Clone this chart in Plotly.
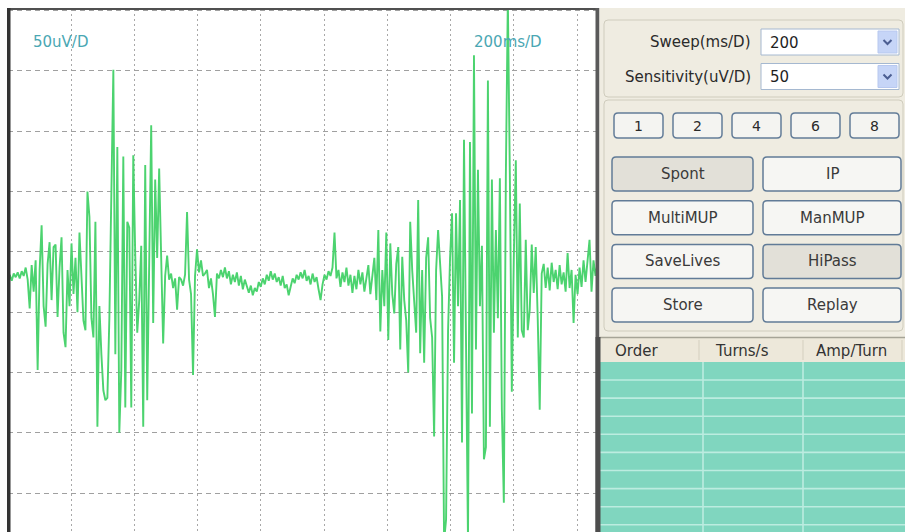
import plotly.graph_objects as go

W, H = 905, 532

# ---------------- data ----------------
sample_ms = 6.3  # sampling interval of the trace (ms)
amplitude_uV = [
    2, 6, 1, 7, 4, 8, 3, 9, 5, 12, 2, -22, 14, -8, 18,
    -73, 10, 47, -20, -37, 15, 33, -15, 29, 31, -29, 12, 37, -42, -54,
    10, -20, 32, -10, 20, -25, 41, 5, -32, -40, 75, 54, -30, -46, 50,
    -120, -20, -60, -90, -98, -96, -30, 87, 176, -60, 112, -125, -73, 104, -104,
    50, 45, -104, 105, 22, -42, -15, 30, -120, 97, -98, 40, 130, -34, 85,
    20, 94, 21, -51, 5, 22, 2, 7, -5, 3, -23, 4, 2, -3, 6,
    58, 2, -10, -77, 5, 27, 8, 18, 5, 7, 10, -5, 3, -10, -29,
    7, 3, 10, 4, 12, 3, 9, -2, 6, 0, 8, -3, 5, -6, 2,
    -4, -9, -3, -11, -5, -8, 0, -4, 3, -2, 6, 1, 9, 2, 7,
    0, 4, -3, 5, -5, -2, -11, -4, 3, -1, 6, 2, 8, 3, 10,
    1, 5, -2, 7, 0, 4, -6, -15, -2, 6, 2, 9, 5, 12, 41,
    3, 10, -4, 8, 0, 12, -3, 6, -9, 5, -6, 10, -2, 8, -8,
    3, 14, -10, 6, 20, -15, 43, -41, 10, -20, 41, -48, 32, -10, -26,
    15, 29, -56, 21, -15, -32, -75, 50, 10, -20, -42, 68, -59, 10, -67,
    20, 37, -30, -46, -128, 10, 43, 18, -12, -215, -197, -40, 20, 57, -67,
    57, -20, 68, -133, 118, -60, -215, 116, -109, 188, -56, 93, -20, 30, -147,
    -137, 167, -120, 85, -42, 43, -30, 86, -106, -183, 87, 235, 90, -91, 20,
    101, -46, 65, -40, -46, 35, -40, -23, 31, -9, 29, -30, -106, 7, 15,
    -5, 12, -7, 16, 0, 10, -6, 14, -2, 8, -8, 24, -5, 10, -34,
    6, -10, 12, -4, 18, 0, 20, 35, -8, 18, 5, 15,
]
time_ms = [i * sample_ms for i in range(len(amplitude_uV))]

sweep_ms_per_div = 200
sens_uV_per_div = 50
sweep_text = "200ms/D"
sens_text = "50uV/D"

field_labels = ["Sweep(ms/D)", "Sensitivity(uV/D)"]
field_values = ["200", "50"]
number_buttons = ["1", "2", "4", "6", "8"]
mode_buttons = [["Spont", "IP"], ["MultiMUP", "ManMUP"],
                ["SaveLives", "HiPass"], ["Store", "Replay"]]
pressed_buttons = ["Spont", "HiPass"]
table_columns = ["Order", "Turns/s", "Amp/Turn"]
table_row_count = 9

# ---------------- helpers ----------------
FONT = "DejaVu Sans"


def X(v):
    return v / W


def Y(v):
    return 1 - v / H


shapes = []
annotations = []


def rect(x0, y0, x1, y1, fill=None, line=None, lw=1):
    shapes.append(dict(type="rect", xref="paper", yref="paper",
                       x0=X(x0), x1=X(x1), y0=Y(y1), y1=Y(y0),
                       fillcolor=fill if fill else "rgba(0,0,0,0)",
                       line=dict(color=line if line else "rgba(0,0,0,0)", width=lw if line else 0),
                       layer="above"))


def rrect(x0, y0, x1, y1, r, fill=None, line=None, lw=1):
    p = (f"M {X(x0 + r)},{Y(y0)} L {X(x1 - r)},{Y(y0)} Q {X(x1)},{Y(y0)} {X(x1)},{Y(y0 + r)} "
         f"L {X(x1)},{Y(y1 - r)} Q {X(x1)},{Y(y1)} {X(x1 - r)},{Y(y1)} "
         f"L {X(x0 + r)},{Y(y1)} Q {X(x0)},{Y(y1)} {X(x0)},{Y(y1 - r)} "
         f"L {X(x0)},{Y(y0 + r)} Q {X(x0)},{Y(y0)} {X(x0 + r)},{Y(y0)} Z")
    shapes.append(dict(type="path", xref="paper", yref="paper", path=p,
                       fillcolor=fill if fill else "rgba(0,0,0,0)",
                       line=dict(color=line if line else "rgba(0,0,0,0)", width=lw if line else 0),
                       layer="above"))


def hline(x0, x1, y, color, lw=1):
    shapes.append(dict(type="line", xref="paper", yref="paper",
                       x0=X(x0), x1=X(x1), y0=Y(y), y1=Y(y),
                       line=dict(color=color, width=lw), layer="above"))


def vline(x, y0, y1, color, lw=1):
    shapes.append(dict(type="line", xref="paper", yref="paper",
                       x0=X(x), x1=X(x), y0=Y(y0), y1=Y(y1),
                       line=dict(color=color, width=lw), layer="above"))


def text(x, y, s, anchor="center", size=15, color="#2a2a2a"):
    annotations.append(dict(xref="paper", yref="paper", x=X(x), y=Y(y), text=s,
                            showarrow=False, xanchor=anchor, yanchor="middle",
                            font=dict(family=FONT, size=size, color=color)))


# ---------------- figure / trace ----------------
fig = go.Figure()
fig.add_trace(go.Scatter(x=time_ms, y=amplitude_uV, mode="lines",
                         line=dict(color="#4cd36f", width=1.9),
                         hoverinfo="skip", showlegend=False))

x_left_px, x_right_px, div_px_x = 7.75, 597.0, 63.25
y_top_px, y_bot_px, zero_px, div_px_y = 9.0, 532.0, 282.0, 60.3
x_max = (x_right_px - x_left_px) / div_px_x * sweep_ms_per_div
y_max = (zero_px - y_top_px) / div_px_y * sens_uV_per_div
y_min = (zero_px - y_bot_px) / div_px_y * sens_uV_per_div

fig.update_xaxes(domain=[X(x_left_px), X(x_right_px)], range=[0, x_max],
                 tick0=0, dtick=sweep_ms_per_div, showgrid=True,
                 gridcolor="#a8a8a8", griddash="2px,3px", gridwidth=1,
                 showticklabels=False, ticks="", zeroline=False, showline=False)
fig.update_yaxes(domain=[0, Y(y_top_px)], range=[y_min, y_max],
                 tick0=sens_uV_per_div / 2, dtick=sens_uV_per_div, showgrid=True,
                 gridcolor="#a0a0a0", griddash="5px,4px", gridwidth=1,
                 showticklabels=False, ticks="", zeroline=False, showline=False)

# scope labels
text(31, 42, sens_text, anchor="left", color="#4aa7b3")
text(472, 42, sweep_text, anchor="left", color="#4aa7b3")

# scope borders
rect(7, 8, 598, 10, fill="#505050")
rect(7, 8, 10.5, 532, fill="#333333")
rect(595.5, 8, 599.5, 532, fill="#5a5a5a")

# ---------------- right panel ----------------
rect(599.5, 8, 905, 337, fill="#efece1")
rrect(604, 20, 903, 97, 4, line="#cfccbd", lw=1)
rrect(604, 100, 903, 331, 4, line="#cfccbd", lw=1)

for k, (lab, val) in enumerate(zip(field_labels, field_values)):
    yc = 42 + k * 34.5
    text(753, yc, lab, anchor="right")
    rect(761, yc - 13, 899, yc + 13, fill="#ffffff", line="#a5b8d0", lw=1)
    rect(878, yc - 11, 897, yc + 11, fill="#c6d5f7", line="#b7c8ef", lw=1)
    shapes.append(dict(type="path", xref="paper", yref="paper",
                       path=f"M {X(883.5)},{Y(yc - 2)} L {X(887.5)},{Y(yc + 2)} L {X(891.5)},{Y(yc - 2)}",
                       line=dict(color="#4b5e92", width=2), layer="above"))
    text(768, yc + 0.5, val, anchor="left", color="#1f1f1f")

for k, lab in enumerate(number_buttons):
    x0 = 614 + k * 59
    rrect(x0, 113, x0 + 49, 138, 4, fill="#f4f4f1", line="#637c98", lw=1.5)
    text(x0 + 24.5, 126, lab, size=14)

for r, row in enumerate(mode_buttons):
    y0 = 157 + r * 43.7
    for c, lab in enumerate(row):
        x0, x1 = (612, 753) if c == 0 else (763, 901)
        fill = "#e2e0d8" if lab in pressed_buttons else "#f6f6f3"
        rrect(x0, y0, x1, y0 + 34, 4, fill=fill, line="#617b97", lw=1.5)
        text((x0 + x1) / 2, y0 + 17, lab, color="#3a3a3a")

# ---------------- table ----------------
rect(599.5, 337, 905, 362, fill="#ede8da")
hline(599.5, 905, 337.5, "#a6a497", 1.5)
col_x = [613, 713, 814]
for cx, lab in zip(col_x, table_columns):
    text(cx, 351, lab, anchor="left", color="#333333")
for sx in [699, 803, 902]:
    vline(sx, 340, 360, "#d4cfbf", 1)
rect(599.5, 362, 905, 532, fill="#80d6bf")
for k in range(table_row_count):
    hline(600, 905, 380 + k * 18.1, "#bcece0", 1.6)
for sx in [703, 803]:
    vline(sx, 362, 532, "#bcece0", 1.6)
rect(595.5, 337, 600.5, 532, fill="#4d4d4d")

fig.update_layout(width=W, height=H, margin=dict(l=0, r=0, t=0, b=0),
                  paper_bgcolor="#ffffff", plot_bgcolor="#ffffff",
                  shapes=shapes, annotations=annotations, showlegend=False)

fig.write_html("out.html",
               config={"displayModeBar": False, "staticPlot": True},
               post_script="document.body.style.margin='0px';"
                           "document.body.style.padding='0px';"
                           "document.body.style.overflow='hidden';")
